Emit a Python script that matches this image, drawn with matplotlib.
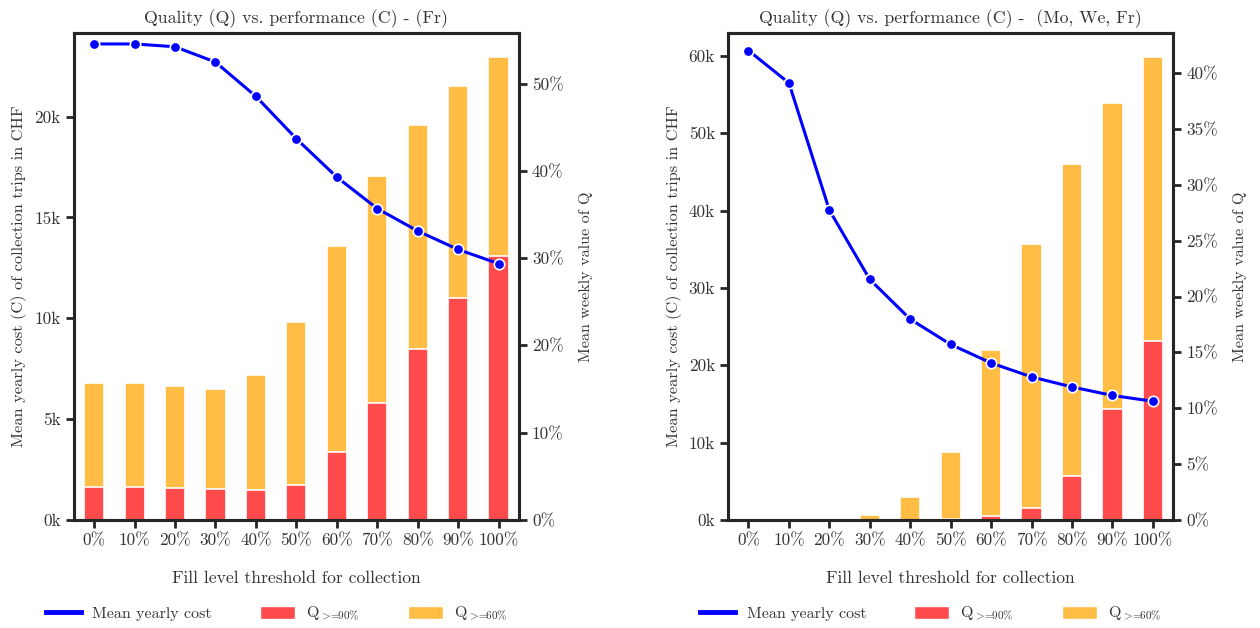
import matplotlib
matplotlib.use("Agg")
import matplotlib.pyplot as plt
from matplotlib.ticker import FuncFormatter, MultipleLocator
from matplotlib.lines import Line2D
from matplotlib.patches import Patch
import numpy as np

plt.rcParams["font.family"] = ["cmr10", "DejaVu Serif"]
plt.rcParams["mathtext.fontset"] = "cm"
plt.rcParams["axes.formatter.use_mathtext"] = True
plt.rcParams["font.size"] = 12.4

thresholds = ["0%", "10%", "20%", "30%", "40%", "50%", "60%", "70%", "80%", "90%", "100%"]

# Friday only
cost_fr = [23600, 23600, 23460, 22700, 21000, 18900, 17000, 15440, 14330, 13410, 12710]
q60_fr = [15.7, 15.7, 15.4, 15.0, 16.6, 22.7, 31.4, 39.4, 45.3, 49.7, 53.0]
q90_fr = [3.75, 3.75, 3.67, 3.6, 3.4, 3.98, 7.8, 13.4, 19.6, 25.4, 30.3]

# Monday, Wednesday, Friday
cost_mwf = [60700, 56500, 40060, 31100, 25960, 22700, 20300, 18500, 17200, 16100, 15350]
q60_mwf = [0.0, 0.0, 0.0, 0.45, 2.06, 6.13, 15.26, 24.7, 31.9, 37.3, 41.4]
q90_mwf = [0.0, 0.0, 0.0, 0.0, 0.0, 0.05, 0.36, 1.08, 3.92, 9.96, 16.0]

titles = ["Quality (Q) vs. performance (C) - (Fr)",
          "Quality (Q) vs. performance (C) -  (Mo, We, Fr)"]

RED = "#ff4b4b"
ORANGE = "#ffbd45"
BLUE = "#0000ff"
SPINE = "#262626"

fig = plt.figure(figsize=(12.6, 6.28), dpi=100)
ax_rects = [[0.0587, 0.172, 0.353, 0.7755], [0.578, 0.172, 0.353, 0.7755]]
pct_steps = [10, 5]


def style(a):
    for s in a.spines.values():
        s.set_linewidth(2.2)
        s.set_color(SPINE)
    a.tick_params(width=2.0, length=6, color=SPINE, labelcolor="#333333",
                  labelsize=12.4)


for rect, cost, q60, q90, title, step in zip(
        ax_rects, [cost_fr, cost_mwf], [q60_fr, q60_mwf], [q90_fr, q90_mwf],
        titles, pct_steps):
    ax = fig.add_axes(rect)
    tw = ax.twinx()
    x = np.arange(len(thresholds))

    tw.bar(x, q60, width=0.5, color=ORANGE, edgecolor="white", linewidth=1.2)
    tw.bar(x, q90, width=0.5, color=RED, edgecolor="white", linewidth=1.2)
    tw.set_ylim(0, max(q60) * 1.053)
    tw.yaxis.set_major_locator(MultipleLocator(step))
    tw.yaxis.set_major_formatter(FuncFormatter(lambda v, p: f"{v:.0f}%"))
    tw.set_ylabel("Mean weekly value of Q", labelpad=11, fontsize=11.6,
                  color="#333333")

    ax.plot(x, cost, color=BLUE, lw=2.2, marker="o", ms=7.5,
            markeredgecolor="white", markeredgewidth=1.2, zorder=5)
    rng = max(cost) - min(cost)
    ax.set_ylim(0, max(cost) + 0.05 * rng)
    ax.set_xlim(-0.5, len(thresholds) - 0.5)
    ax.yaxis.set_major_locator(MultipleLocator(5000 if step == 10 else 10000))
    ax.yaxis.set_major_formatter(FuncFormatter(lambda v, p: f"{v/1000:.0f}k"))
    ax.set_xticks(x)
    ax.set_xticklabels(thresholds)
    ax.set_ylabel("Mean yearly cost (C) of collection trips in CHF",
                  labelpad=5, fontsize=11.8, color="#333333")
    ax.set_xlabel("Fill level threshold for collection", labelpad=16,
                  fontsize=12.7, color="#333333")
    ax.set_title(title, pad=7, fontsize=12.8, color="#333333")
    ax.set_zorder(tw.get_zorder() + 1)
    ax.patch.set_visible(False)
    style(ax)
    style(tw)

    handles = [Line2D([0], [0], color=BLUE, lw=3.5),
               Patch(facecolor=RED, edgecolor="white"),
               Patch(facecolor=ORANGE, edgecolor="white")]
    labels = ["Mean yearly cost", r"Q$_{>\!\!=\!\!90\%}$",
              r"Q$_{>\!\!=\!\!60\%}$"]
    ax.legend(handles, labels, loc="center left", ncol=3, frameon=False,
              bbox_to_anchor=(-0.063, -0.193), borderaxespad=0, borderpad=0,
              handlelength=2.2, handleheight=0.85, handletextpad=0.7,
              columnspacing=3.0, fontsize=11.5, labelcolor="#333333")

fig.savefig("out.png", dpi=100)
